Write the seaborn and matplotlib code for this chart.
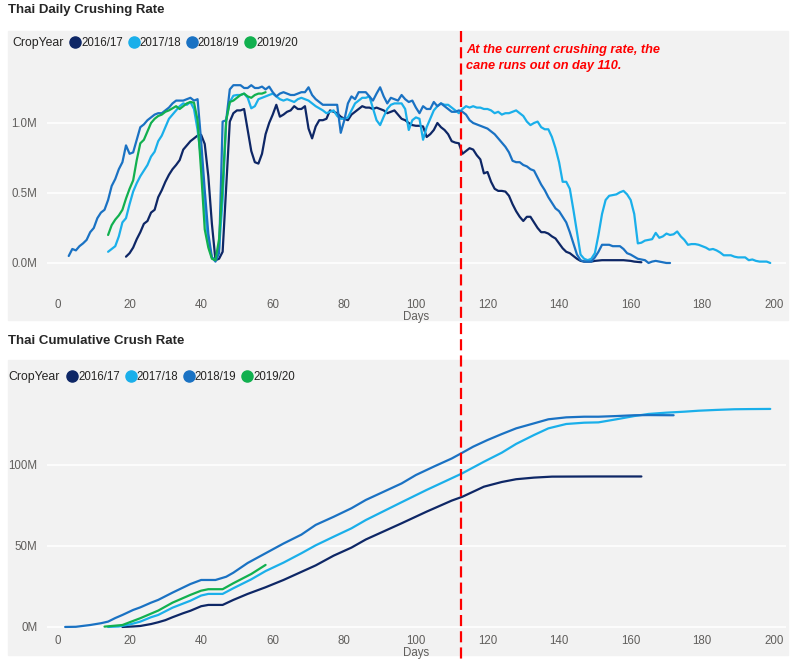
import pandas as pd
import seaborn as sns
import matplotlib.pyplot as plt
from matplotlib.lines import Line2D
from matplotlib.patches import Rectangle

years = ['2016/17', '2017/18', '2018/19', '2019/20']
colours = ['#0E2766', '#1AAFEA', '#1A72C3', '#11B04F']

# daily crushing rate (millions)
d1617_days = list(range(19, 150)) + [150, 152, 154, 156, 158, 160, 161, 163]
d1617_vals = [0.045, 0.07, 0.11, 0.17, 0.22, 0.28, 0.30, 0.36, 0.38, 0.47, 0.52, 0.58, 0.63, 0.67, 0.70, 0.735,
              0.81, 0.84, 0.87, 0.89, 0.91, 0.915, 0.85, 0.62, 0.28, 0.02, 0.03, 0.08, 0.55, 1.01, 1.07, 1.09,
              1.09, 1.10, 0.95, 0.80, 0.72, 0.71, 0.78, 0.92, 1.00, 1.06, 1.13, 1.045, 1.06, 1.08, 1.09, 1.12,
              1.10, 1.10, 1.12, 0.96, 0.89, 0.975, 1.02, 1.02, 1.03, 1.09, 1.08, 1.07, 1.045, 1.03, 1.02, 1.06,
              1.08, 1.10, 1.12, 1.11, 1.11, 1.10, 1.11, 1.10, 1.09, 1.07, 1.08, 1.09, 1.06, 1.03, 1.02, 1.00,
              0.985, 0.98, 0.98, 0.975, 0.90, 0.92, 0.95, 1.00, 0.97, 0.95, 0.92, 0.87, 0.86, 0.855, 0.78, 0.80,
              0.82, 0.81, 0.77, 0.74, 0.64, 0.65, 0.58, 0.53, 0.515, 0.515, 0.51, 0.48, 0.42, 0.37, 0.33, 0.30,
              0.33, 0.33, 0.29, 0.25, 0.22, 0.22, 0.21, 0.19, 0.175, 0.14, 0.105, 0.08, 0.07, 0.05, 0.03, 0.015,
              0.01, 0.01, 0.01, 0.015, 0.02, 0.02, 0.02, 0.02, 0.015, 0.01, 0.005]

d1718_days = list(range(14, 200))
d1718_vals = [0.08, 0.10, 0.12, 0.19, 0.29, 0.32, 0.42, 0.51, 0.57, 0.62, 0.66, 0.70, 0.76, 0.795, 0.87, 0.91,
              0.97, 1.03, 1.06, 1.09, 1.12, 1.14, 1.13, 1.15, 1.10, 0.95, 0.74, 0.40, 0.14, 0.04, 0.02, 0.10,
              0.45, 1.02, 1.15, 1.195, 1.20, 1.20, 1.21, 1.18, 1.105, 1.12, 1.17, 1.18, 1.19, 1.20, 1.21, 1.19,
              1.17, 1.16, 1.17, 1.16, 1.15, 1.17, 1.18, 1.17, 1.16, 1.14, 1.12, 1.105, 1.09, 1.07, 1.08, 1.09,
              1.05, 1.03, 1.03, 1.04, 1.09, 1.14, 1.16, 1.18, 1.18, 1.19, 1.105, 1.02, 0.985, 1.045, 1.10, 1.13,
              1.14, 1.14, 1.14, 1.10, 0.95, 1.02, 1.04, 1.03, 0.88, 0.97, 1.03, 1.09, 1.12, 1.14, 1.13, 1.13,
              1.11, 1.09, 1.07, 1.10, 1.12, 1.11, 1.12, 1.11, 1.11, 1.10, 1.10, 1.09, 1.07, 1.08, 1.06, 1.07,
              1.07, 1.08, 1.09, 1.07, 1.05, 1.01, 0.985, 1.00, 1.01, 0.97, 0.955, 0.955, 0.90, 0.82, 0.72, 0.58,
              0.58, 0.53, 0.38, 0.22, 0.06, 0.03, 0.02, 0.03, 0.07, 0.20, 0.35, 0.45, 0.48, 0.485, 0.49, 0.505,
              0.515, 0.49, 0.45, 0.35, 0.14, 0.145, 0.16, 0.165, 0.17, 0.215, 0.18, 0.19, 0.21, 0.20, 0.205, 0.225,
              0.19, 0.165, 0.13, 0.135, 0.135, 0.13, 0.12, 0.11, 0.095, 0.10, 0.09, 0.075, 0.055, 0.055, 0.055, 0.045,
              0.04, 0.04, 0.04, 0.02, 0.025, 0.015, 0.01, 0.01, 0.01, 0.0]

d1819_days = list(range(3, 172))
d1819_vals = [0.05, 0.10, 0.09, 0.12, 0.14, 0.165, 0.22, 0.25, 0.32, 0.36, 0.38, 0.45, 0.55, 0.60, 0.67, 0.72,
              0.84, 0.78, 0.79, 0.88, 0.97, 0.99, 1.02, 1.04, 1.06, 1.07, 1.07, 1.09, 1.11, 1.14, 1.16, 1.16,
              1.16, 1.17, 1.18, 1.16, 1.17, 0.87, 0.52, 0.21, 0.04, 0.01, 0.07, 1.01, 1.02, 1.24, 1.27, 1.27,
              1.27, 1.25, 1.25, 1.27, 1.25, 1.25, 1.26, 1.24, 1.26, 1.22, 1.19, 1.21, 1.22, 1.21, 1.20, 1.20,
              1.21, 1.22, 1.22, 1.255, 1.20, 1.17, 1.15, 1.13, 1.13, 1.13, 1.13, 1.13, 0.93, 1.02, 1.14, 1.19,
              1.17, 1.22, 1.22, 1.22, 1.19, 1.16, 1.21, 1.255, 1.19, 1.14, 1.18, 1.17, 1.16, 1.20, 1.17, 1.15,
              1.16, 1.11, 1.07, 1.12, 1.10, 1.10, 1.15, 1.12, 1.14, 1.12, 1.10, 1.08, 1.08, 1.09, 1.08, 1.06,
              1.02, 1.00, 0.99, 0.98, 0.97, 0.96, 0.94, 0.92, 0.89, 0.86, 0.83, 0.79, 0.73, 0.72, 0.72, 0.70,
              0.69, 0.67, 0.66, 0.61, 0.56, 0.52, 0.47, 0.43, 0.39, 0.37, 0.33, 0.29, 0.22, 0.14, 0.06, 0.02,
              0.01, 0.01, 0.01, 0.04, 0.08, 0.13, 0.13, 0.13, 0.12, 0.12, 0.12, 0.10, 0.07, 0.06, 0.045, 0.03,
              0.025, 0.02, 0.0, 0.01, 0.015, 0.01, 0.005, 0.0, 0.0]

d1920_days = list(range(14, 59))
d1920_vals = [0.20, 0.27, 0.31, 0.34, 0.38, 0.46, 0.53, 0.59, 0.735, 0.855, 0.88, 0.94, 1.00, 1.03, 1.05, 1.06,
              1.08, 1.09, 1.105, 1.12, 1.10, 1.12, 1.14, 1.15, 1.145, 1.02, 0.65, 0.24, 0.11, 0.03, 0.02, 0.17,
              0.55, 1.02, 1.15, 1.16, 1.18, 1.20, 1.21, 1.19, 1.18, 1.20, 1.21, 1.21, 1.22]

# cumulative crush (millions)
c1617_days = [18, 21, 23, 26, 28, 30, 32, 35, 37, 40, 42, 46, 49, 53, 58, 63, 68, 72, 77, 82, 86, 91, 96,
              103, 110, 113, 119, 124, 128, 133, 138, 150, 163]
c1617_vals = [0, 0.3, 0.6, 1.8, 2.9, 4.2, 6.0, 8.5, 10.0, 12.8, 13.6, 13.6, 16.7, 20.4, 24.5, 29, 34, 38,
              44, 49, 54, 59, 64, 71.2, 78, 80.4, 86.6, 89.5, 91.2, 92.2, 92.8, 92.9, 92.9]
c1718_days = [14, 17, 20, 23, 26, 28, 32, 37, 40, 42, 46, 49, 54, 58, 63, 68, 72, 77, 82, 86, 91, 96, 103,
              110, 113, 119, 124, 128, 133, 137, 142, 147, 151, 156, 161, 165, 170, 175, 179, 184, 189, 193, 199]
c1718_vals = [0, 0.3, 1.5, 3.3, 6.0, 7.4, 11.9, 16.2, 19.4, 20.4, 20.4, 23.9, 29.4, 34.5, 39.7, 45.5, 50.4,
              55.7, 60.9, 66, 71.5, 77, 84.6, 91.8, 94.9, 102, 107.6, 113, 118.5, 122.6, 125.3, 126.1, 126.3,
              128.2, 130.2, 131.5, 132.3, 132.9, 133.5, 134, 134.4, 134.5, 134.6]
c1819_days = [2, 5, 9, 12, 14, 16, 18, 21, 23, 26, 28, 32, 37, 40, 44, 47, 49, 53, 58, 63, 68, 72, 77, 82,
              86, 91, 96, 100, 105, 110, 113, 116, 120, 124, 128, 133, 137, 142, 147, 151, 156, 161, 165, 172]
c1819_vals = [0, 0.1, 1.2, 2.3, 3.3, 5.5, 7.4, 10.5, 12.1, 15, 16.7, 21.2, 26.5, 29, 29, 31, 33.5, 39.5,
              45.5, 51.5, 57, 63, 68, 73.3, 78.4, 83.5, 88.6, 93.8, 99, 104, 107.6, 111.3, 115.4, 119.1,
              122.6, 125.7, 128.2, 129.4, 129.8, 129.8, 130.2, 130.7, 130.8, 130.7]
c1920_days = [13, 18, 23, 28, 32, 37, 40, 42, 46, 49, 54, 58]
c1920_vals = [0.2, 1.2, 5.4, 10.1, 15, 19.8, 22.4, 23.3, 23.3, 27, 32.7, 38.3]

top_ticks = [0, 0.5, 1.0]
top_labels = ['0.0M', '0.5M', '1.0M']
bot_ticks = [0, 50, 100]
bot_labels = ['0M', '50M', '100M']
x_ticks = list(range(0, 201, 20))

daily = pd.concat([
    pd.DataFrame({'Days': d, 'Rate': v, 'CropYear': y})
    for d, v, y in zip([d1617_days, d1718_days, d1819_days, d1920_days],
                       [d1617_vals, d1718_vals, d1819_vals, d1920_vals], years)])
cumul = pd.concat([
    pd.DataFrame({'Days': d, 'Crush': v, 'CropYear': y})
    for d, v, y in zip([c1617_days, c1718_days, c1819_days, c1920_days],
                       [c1617_vals, c1718_vals, c1819_vals, c1920_vals], years)])

sns.set_style('white')
plt.rcParams['font.family'] = ['Liberation Sans', 'DejaVu Sans']

W, H = 803, 662
fig = plt.figure(figsize=(W / 100, H / 100), dpi=100)
grey = '#F2F2F2'
tick_col = '#605E5C'
pal = dict(zip(years, colours))


def px_axes(l, t, r, b):
    return fig.add_axes([l / W, 1 - b / H, (r - l) / W, (b - t) / H])


# grey panels
for (y0, y1) in [(31, 320), (360, 655)]:
    fig.patches.append(Rectangle((8 / W, 1 - y1 / H), 780 / W, (y1 - y0) / H,
                                 transform=fig.transFigure, color=grey, zorder=-5))

ax1 = px_axes(47, 60, 786, 290)
ax2 = px_axes(47, 395, 786, 631)

sns.lineplot(data=daily, x='Days', y='Rate', hue='CropYear', palette=pal, estimator=None,
             sort=False, linewidth=1.6, legend=False, ax=ax1)
sns.lineplot(data=cumul, x='Days', y='Crush', hue='CropYear', palette=pal, estimator=None,
             sort=False, linewidth=1.6, legend=False, ax=ax2)

ax1.set_ylim(-0.193, 1.45)
ax2.set_ylim(-2.5, 143.2)
for ax, ticks, labels, pad in [(ax1, top_ticks, top_labels, 6.5), (ax2, bot_ticks, bot_labels, 3)]:
    ax.set_zorder(2)
    ax.set_facecolor('none')
    ax.set_xlim(-3.07, 203.4)
    ax.set_yticks(ticks)
    ax.set_yticklabels(labels)
    ax.set_xticks(x_ticks)
    ax.grid(axis='y', color='white', linewidth=1.2)
    ax.grid(axis='x', visible=False)
    for s in ax.spines.values():
        s.set_visible(False)
    ax.tick_params(axis='both', length=0, labelsize=8.3, labelcolor=tick_col)
    ax.tick_params(axis='y', pad=7)
    ax.tick_params(axis='x', pad=pad)
    ax.set_ylabel('')
    ax.set_xlabel('Days', fontsize=8.3, color=tick_col, labelpad=0)

# titles
fig.text(8 / W, 1 - 10 / H, 'Thai Daily Crushing Rate', fontsize=9.5, fontweight='bold', va='center')
fig.text(8 / W, 1 - 341 / H, 'Thai Cumulative Crush Rate', fontsize=9.5, fontweight='bold', va='center')

# legends
handles = [Line2D([], [], marker='o', linestyle='', markersize=8, color=c) for c in colours]
for x0, y0, lx in [(12, 43, 70), (8, 377, 67)]:
    fig.text(x0 / W, 1 - y0 / H, 'CropYear', fontsize=8.8, color='#252423', va='center')
    fig.legend(handles, years, ncol=4, loc='center left', bbox_to_anchor=(lx / W, 1 - y0 / H),
               frameon=False, fontsize=8.3, handlelength=0.9, handletextpad=0.05,
               columnspacing=0.5, borderpad=0, borderaxespad=0, labelcolor='#252423')

# red dashed marker and note
fig.add_artist(Line2D([461 / W, 461 / W], [1 - 31 / H, 0], transform=fig.transFigure,
                      color='#FF0000', linewidth=1.6, linestyle=(0, (5, 2.3)), zorder=5))
fig.text(466 / W, 1 - 58 / H, 'At the current crushing rate, the\ncane runs out on day 110.',
         fontsize=9.2, fontweight='bold', fontstyle='italic', color='#FF0000', va='center',
         linespacing=1.45)

fig.savefig('out.png', dpi=100, facecolor='white')
